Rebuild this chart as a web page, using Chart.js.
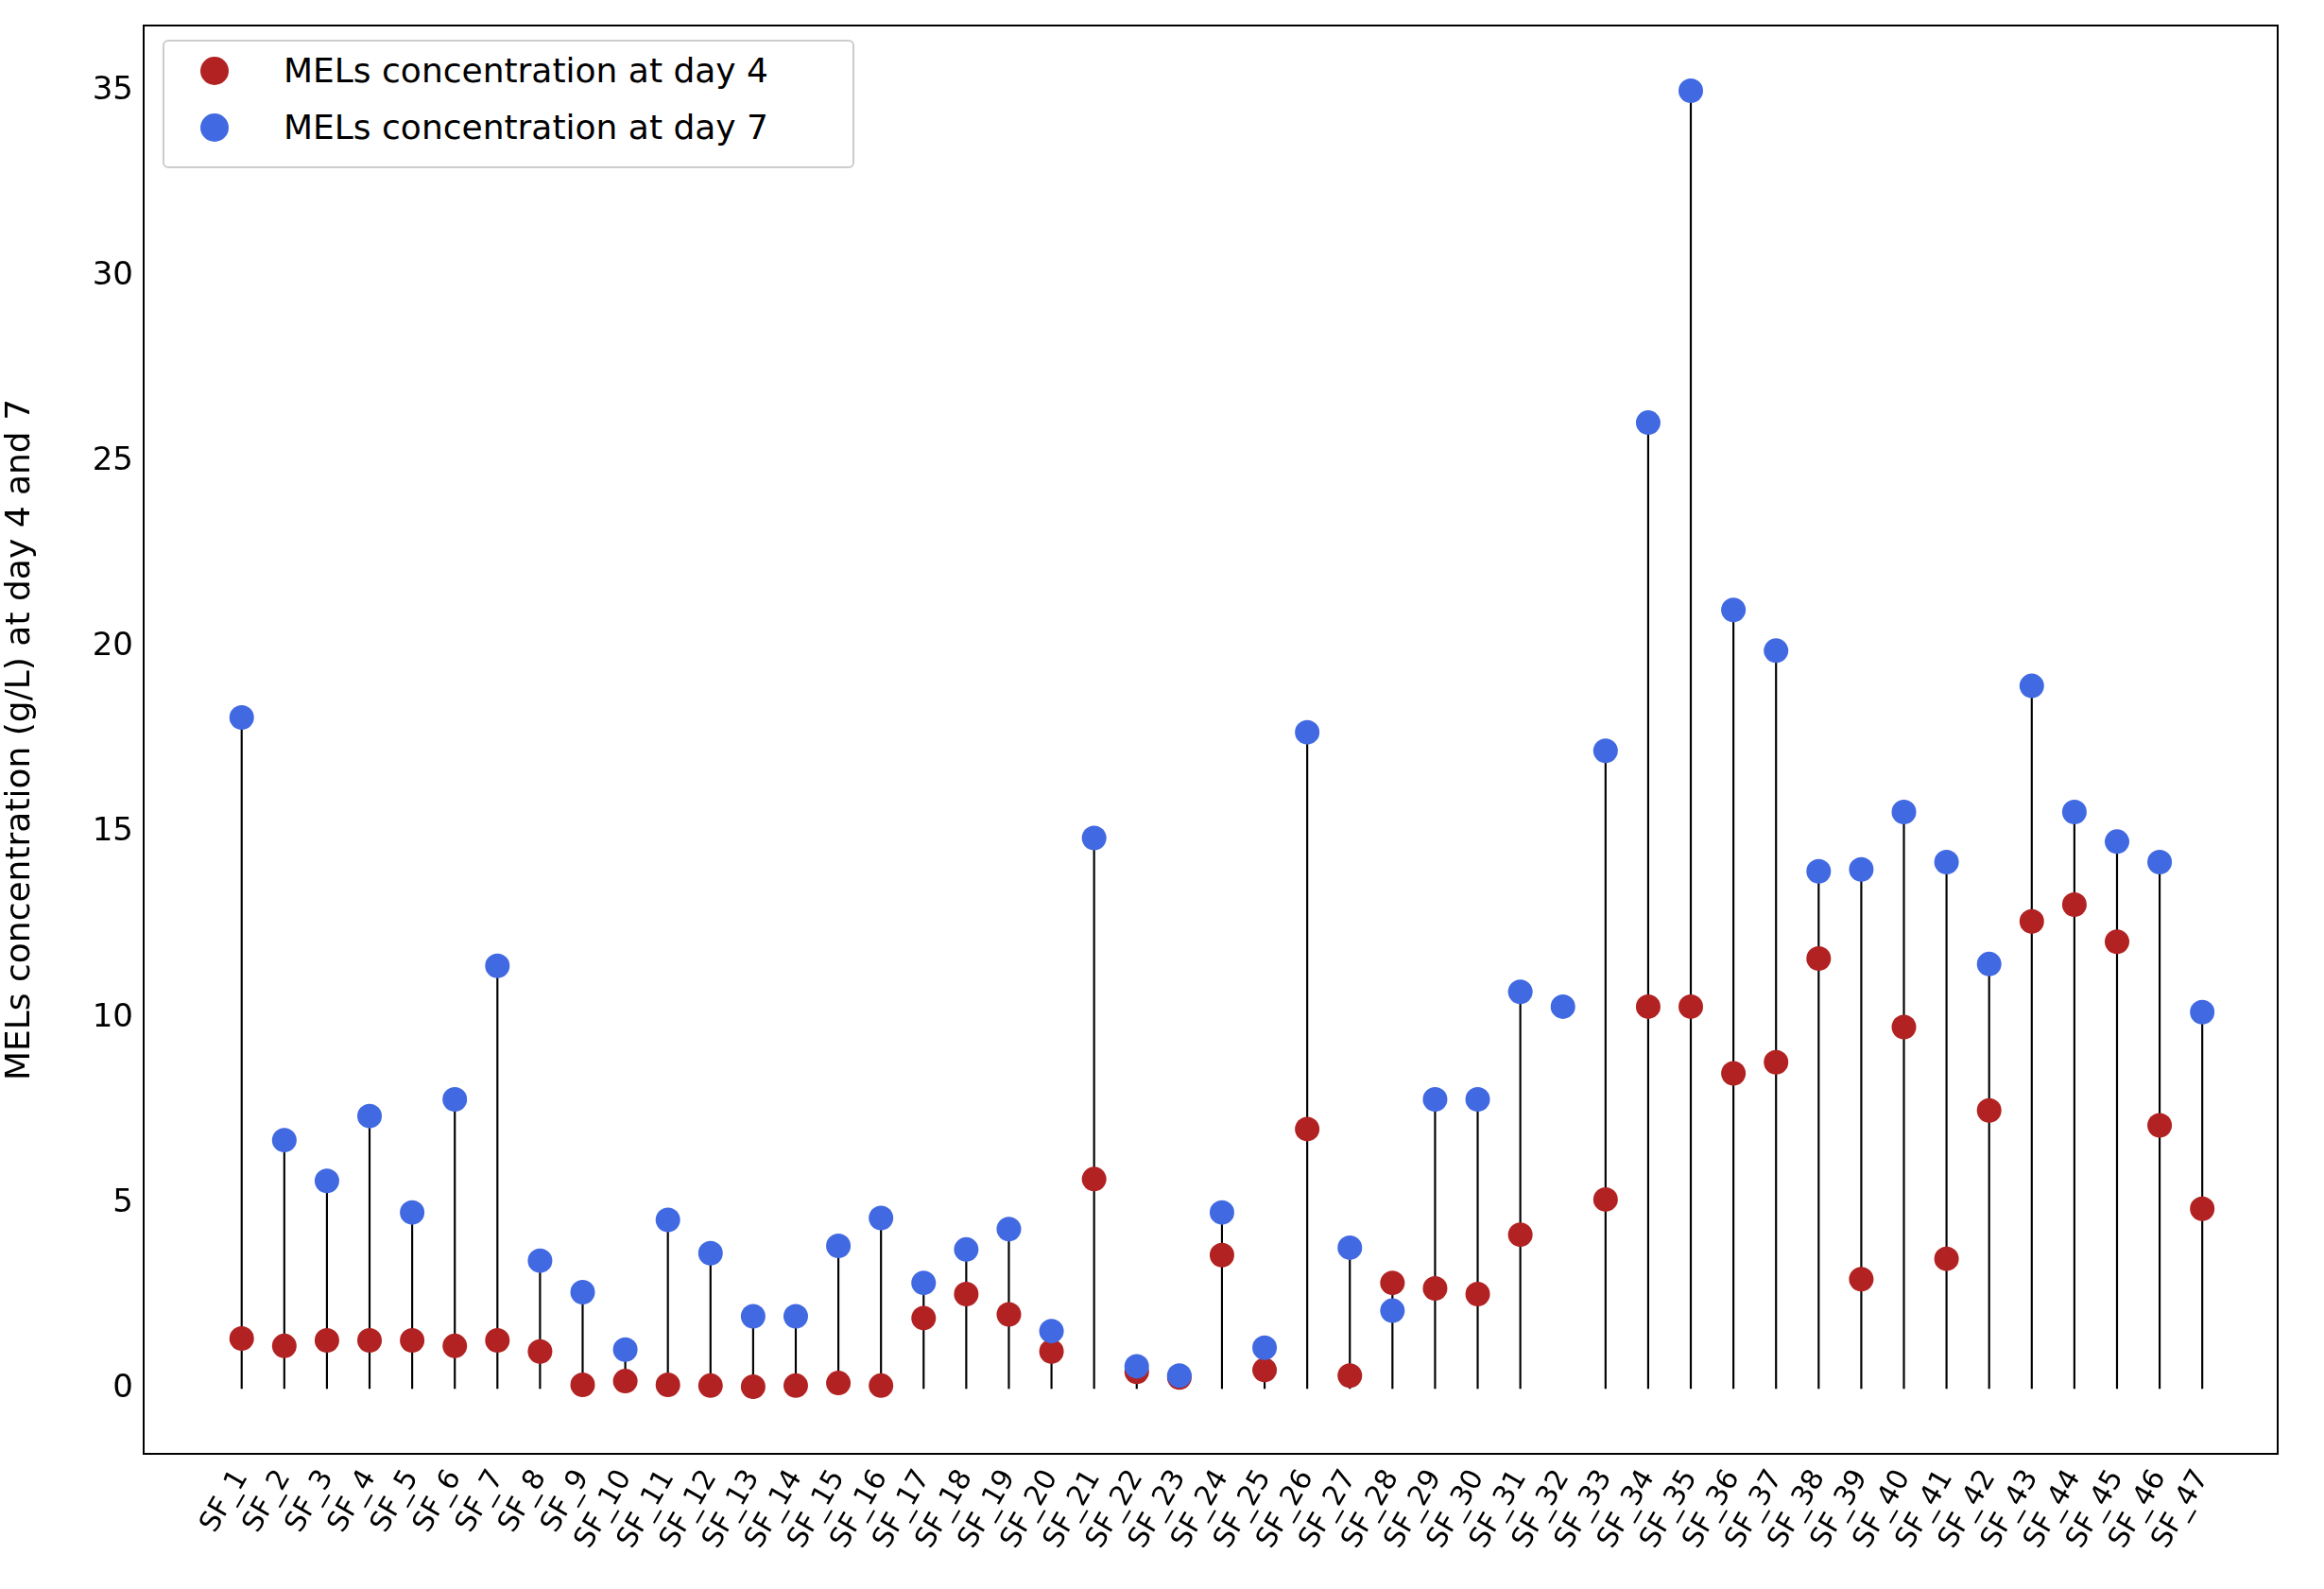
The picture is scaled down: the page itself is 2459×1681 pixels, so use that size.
<!DOCTYPE html>
<html><head><meta charset="utf-8">
<script src="https://cdn.jsdelivr.net/npm/chart.js@4"></script>
<style>
body{margin:0;background:#fff;font-family:"DejaVu Sans",sans-serif}
#wrap{position:relative;width:2459px;height:1681px}
#legend{position:absolute;left:172px;top:42px;width:732px;height:136px;border:2px solid #ccc;border-radius:6px;background:#fff;font-size:36px;color:#000;box-sizing:border-box}
#legend div{position:absolute;left:38px;display:flex;align-items:center}
#legend span.dot{display:inline-block;width:30px;height:30px;border-radius:50%;margin-right:58px}
</style></head><body>
<div id="wrap"><canvas id="c" width="2459" height="1681"></canvas>
<div id="legend">
<div style="top:10px"><span class="dot" style="background:#b22222"></span>MELs concentration at day 4</div>
<div style="top:70px"><span class="dot" style="background:#4169e1"></span>MELs concentration at day 7</div>
</div></div>
<script>
const samples = Array.from({length: 47}, (_, i) => i + 1);
const day4 = [1.35,1.15,1.3,1.3,1.3,1.15,1.3,1.0,0.1,0.2,0.1,0.08,0.05,0.08,0.15,0.08,1.9,2.55,2.0,1.0,
  5.65,0.45,0.3,3.6,0.5,7.0,0.35,2.85,2.7,2.55,4.15,null,5.1,10.3,10.3,8.5,8.8,11.6,2.95,9.75,
  3.5,7.5,12.6,13.05,12.05,7.1,4.85];
const day7 = [18.1,6.7,5.6,7.35,4.75,7.8,11.4,3.45,2.6,1.05,4.55,3.65,1.95,1.95,3.85,4.6,2.85,3.75,4.3,1.55,
  14.85,0.6,0.35,4.75,1.1,17.7,3.8,2.1,7.8,7.8,10.7,10.3,17.2,26.05,35.0,21.0,19.9,13.95,14.0,15.55,
  14.2,11.45,18.95,15.55,14.75,14.2,10.15];
const labelOf = (n) => 'SF_' + n;

// stems from 0 to the higher value (only where both days exist)
const stems = samples.map((s, i) => (day4[i] == null ? null : {x: s, y: [0, Math.max(day4[i], day7[i])]}))
  .filter(Boolean);

const frame = {
  id: 'frame',
  afterDraw(ch) {
    const a = ch.chartArea, g = ch.ctx;
    g.save(); g.strokeStyle = '#000'; g.lineWidth = 2;
    g.strokeRect(a.left, a.top, a.right - a.left, a.bottom - a.top);
    g.restore();
  },
};

new Chart(document.getElementById('c'), {
  data: {
    datasets: [
      {type: 'bar', data: stems, backgroundColor: '#000', barThickness: 1.5, order: 3},
      {type: 'scatter', data: samples.map((s, i) => ({x: s, y: day4[i]})), backgroundColor: '#b22222', borderWidth: 0, pointRadius: 13, order: 2},
      {type: 'scatter', data: samples.map((s, i) => ({x: s, y: day7[i]})), backgroundColor: '#4169e1', borderWidth: 0, pointRadius: 13, order: 1},
    ],
  },
  options: {
    responsive: false, animation: false,
    layout: {padding: {top: 27, right: 49}},
    plugins: {legend: {display: false}, tooltip: {enabled: false}},
    scales: {
      x: {
        type: 'linear', offset: false, min: -1.3, max: 48.77, grid: {display: false, offset: false}, border: {color: '#000', width: 2},
        afterBuildTicks: (sc) => { sc.ticks = samples.map((v) => ({value: v})); },
        afterFit: (sc) => { sc.height = 143; },
        ticks: {autoSkip: false, minRotation: 60, maxRotation: 60, color: '#000', font: {size: 30, family: 'DejaVu Sans'},
          callback: (v) => labelOf(v)},
      },
      y: {
        min: -1.76, max: 36.76, grid: {display: false}, border: {color: '#000', width: 2},
        afterBuildTicks: (sc) => { sc.ticks = [0, 5, 10, 15, 20, 25, 30, 35].map((v) => ({value: v})); },
        afterFit: (sc) => { sc.width = 152; },
        ticks: {color: '#000', font: {size: 34, family: 'DejaVu Sans'}},
        title: {display: true, text: 'MELs concentration (g/L) at day 4 and 7', color: '#000', padding: {top: 0, bottom: 14},
          font: {size: 36, family: 'DejaVu Sans'}},
      },
    },
  },
  plugins: [frame],
});
</script></body></html>
